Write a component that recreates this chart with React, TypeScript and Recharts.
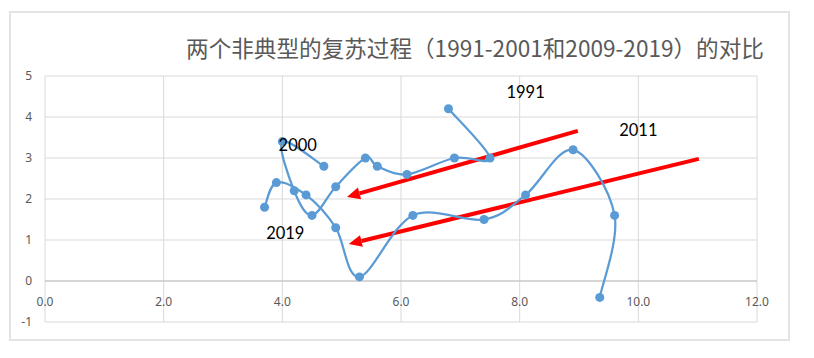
import React from "react";
import {
  ScatterChart,
  Scatter,
  XAxis,
  YAxis,
  ZAxis,
  CartesianGrid,
  ReferenceLine,
  ReferenceDot,
} from "recharts";

// 1991-2001 recovery path
const xs1991 = [6.8, 7.5, 6.9, 6.1, 5.6, 5.4, 4.9, 4.5, 4.2, 4.0, 4.7];
const ys1991 = [4.2, 3.0, 3.0, 2.6, 2.8, 3.0, 2.3, 1.6, 2.2, 3.4, 2.8];

// 2009-2019 recovery path
const xs2009 = [9.35, 9.6, 8.9, 8.1, 7.4, 6.2, 5.3, 4.9, 4.4, 3.9, 3.7];
const ys2009 = [-0.4, 1.6, 3.2, 2.1, 1.5, 1.6, 0.1, 1.3, 2.1, 2.4, 1.8];

const xTicks = [0, 2, 4, 6, 8, 10, 12];
const yTicks = [-1, 0, 1, 2, 3, 4, 5];

// year labels placed near the path ends
const labelText = ["1991", "2000", "2011", "2019"];
const labelX = [8.1, 4.26, 10.0, 4.05];
const labelY = [4.6, 3.32, 3.68, 1.17];

// red trend arrows: tail -> head
const arrowTailX = [8.98, 11.02];
const arrowTailY = [3.66, 2.98];
const arrowHeadX = [5.09, 5.12];
const arrowHeadY = [2.05, 0.9];

const toPoints = (xs: number[], ys: number[]) =>
  xs.map((x, i) => ({ x, y: ys[i] }));

const data1991 = toPoints(xs1991, ys1991);
const data2009 = toPoints(xs2009, ys2009);

const BLUE = "#5b9bd5";
const GREY_TEXT = "#595959";

// Excel style smoothed line (Catmull-Rom through the points)
function smoothCurve(context: any) {
  let pts: number[][] = [];
  return {
    areaStart() {},
    areaEnd() {},
    lineStart() {
      pts = [];
    },
    point(x: number, y: number) {
      pts.push([+x, +y]);
    },
    lineEnd() {
      if (!pts.length) return;
      context.moveTo(pts[0][0], pts[0][1]);
      for (let i = 0; i < pts.length - 1; i++) {
        const p0 = pts[i - 1] || pts[i];
        const p1 = pts[i];
        const p2 = pts[i + 1];
        const p3 = pts[i + 2] || p2;
        context.bezierCurveTo(
          p1[0] + (p2[0] - p0[0]) / 6,
          p1[1] + (p2[1] - p0[1]) / 6,
          p2[0] - (p3[0] - p1[0]) / 6,
          p2[1] - (p3[1] - p1[1]) / 6,
          p2[0],
          p2[1]
        );
      }
    },
  };
}

const ArrowShape = (props: any) => {
  const { x1, y1, x2, y2 } = props;
  const dx = x2 - x1;
  const dy = y2 - y1;
  const len = Math.sqrt(dx * dx + dy * dy) || 1;
  const ux = dx / len;
  const uy = dy / len;
  const headLen = 13;
  const headW = 6;
  const bx = x2 - ux * headLen;
  const by = y2 - uy * headLen;
  return (
    <g>
      <line x1={x1} y1={y1} x2={bx} y2={by} stroke="#ff0000" strokeWidth={4} />
      <polygon
        points={`${x2},${y2} ${bx - uy * headW},${by + ux * headW} ${bx + uy * headW},${by - ux * headW}`}
        fill="#ff0000"
      />
    </g>
  );
};

const XTick = (props: any) => {
  const { x, y, payload } = props;
  // labels sit just under the y = 0 line
  return (
    <text
      x={x}
      y={y - 21}
      textAnchor="middle"
      dominantBaseline="central"
      fill={GREY_TEXT}
      fontSize={12}
      fontFamily="Noto Sans, sans-serif"
    >
      {Number(payload.value).toFixed(1)}
    </text>
  );
};

export default function App() {
  return (
    <div style={{ position: "relative", width: 798, height: 342 }}>
      <div
        style={{
          position: "absolute",
          left: 1,
          top: 3,
          width: 781,
          height: 330,
          boxSizing: "border-box",
          border: "2px solid #e4e4e4",
        }}
      />
      <div
        style={{
          position: "absolute",
          left: 467,
          top: 29,
          transform: "translateX(-50%)",
          whiteSpace: "nowrap",
          fontFamily: "'Noto Sans CJK SC', sans-serif",
          fontSize: 22.6,
          lineHeight: "22px",
          color: GREY_TEXT,
        }}
      >
        两个非典型的复苏过程（1991-2001和2009-2019）的对比
      </div>
      <div style={{ position: "absolute", left: 0, top: 0 }}>
        <ScatterChart
          width={798}
          height={342}
          margin={{ top: 68, right: 49, bottom: 8, left: 12 }}
        >
          <CartesianGrid stroke="#d9d9d9" strokeWidth={1} />
          <XAxis
            type="number"
            dataKey="x"
            domain={[0, 12]}
            ticks={xTicks}
            axisLine={false}
            tickLine={false}
            tickSize={0}
            tickMargin={0}
            height={20}
            tick={<XTick />}
            interval={0}
          />
          <YAxis
            type="number"
            dataKey="y"
            domain={[-1, 5]}
            ticks={yTicks}
            axisLine={false}
            tickLine={false}
            tickSize={0}
            tickMargin={13}
            width={25}
            interval={0}
            tick={{ fill: GREY_TEXT, fontSize: 12, fontFamily: "Noto Sans, sans-serif" }}
          />
          <ZAxis range={[64, 64]} />
          <ReferenceLine y={0} stroke="#bfbfbf" strokeWidth={1.2} />
          <Scatter
            name="1991-2001"
            data={data1991}
            fill={BLUE}
            line={{ stroke: BLUE, strokeWidth: 2.25 }}
            lineJointType={smoothCurve as any}
            isAnimationActive={false}
          />
          <Scatter
            name="2009-2019"
            data={data2009}
            fill={BLUE}
            line={{ stroke: BLUE, strokeWidth: 2.25 }}
            lineJointType={smoothCurve as any}
            isAnimationActive={false}
          />
          {arrowTailX.map((tx, i) => (
            <ReferenceLine
              key={`arrow-${i}`}
              segment={[
                { x: tx, y: arrowTailY[i] },
                { x: arrowHeadX[i], y: arrowHeadY[i] },
              ]}
              shape={ArrowShape}
            />
          ))}
          {labelText.map((t, i) => (
            <ReferenceDot
              key={`label-${t}`}
              x={labelX[i]}
              y={labelY[i]}
              r={0}
              shape={(p: any) => (
                <text
                  x={p.cx}
                  y={p.cy}
                  textAnchor="middle"
                  dominantBaseline="central"
                  fill="#000000"
                  fontSize={16.5}
                  fontFamily="Lato, sans-serif"
                >
                  {t}
                </text>
              )}
            />
          ))}
        </ScatterChart>
      </div>
    </div>
  );
}
